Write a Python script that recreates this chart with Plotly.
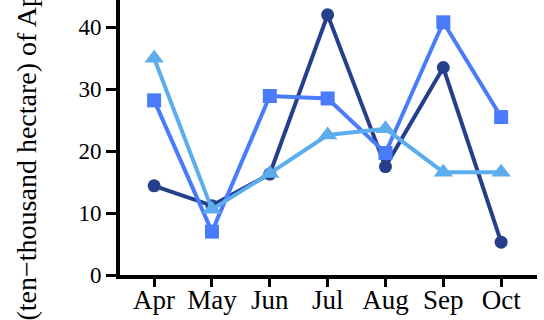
import plotly.graph_objects as go

months = ["Apr", "May", "Jun", "Jul", "Aug", "Sep", "Oct"]
series_a = [14.4, 11.2, 16.3, 42.0, 17.5, 33.5, 5.3]
series_b = [28.2, 7.0, 28.9, 28.5, 19.7, 40.8, 25.5]
series_c = [35.0, 10.6, 16.4, 22.6, 23.6, 16.6, 16.6]
y_ticks = [0, 10, 20, 30, 40]

colors = ["#263F8C", "#4A7BFB", "#5DADEC"]
symbols = ["circle", "square", "triangle-up"]
sizes = [13, 14, 17]

fig = go.Figure()
for vals, col, sym, sz in zip([series_a, series_b, series_c], colors, symbols, sizes):
    fig.add_trace(go.Scatter(
        x=list(range(len(months))), y=vals, mode="lines+markers",
        line=dict(color=col, width=4),
        marker=dict(symbol=sym, size=sz, color=col),
        showlegend=False,
    ))

serif = "Times New Roman, Liberation Serif, Tinos, DejaVu Serif, serif"

fig.update_layout(
    width=544, height=320,
    margin=dict(l=120, r=7, t=0, b=45),
    paper_bgcolor="white", plot_bgcolor="white",
    font=dict(family=serif, size=24, color="black"),
    xaxis=dict(
        range=[-0.59, 6.62], tickvals=list(range(len(months))), ticktext=months,
        showline=True, linecolor="black", linewidth=4,
        ticks="outside", ticklen=8, tickwidth=3, tickcolor="black",
        ticklabelstandoff=-10,
        showgrid=False, zeroline=False,
        tickfont=dict(family=serif, size=27, color="black"),
    ),
    yaxis=dict(
        range=[0, 44.4], tickvals=y_ticks,
        showline=True, linecolor="black", linewidth=4,
        ticks="outside", ticklen=10, tickwidth=3, tickcolor="black",
        showgrid=False, zeroline=False,
        tickfont=dict(family=serif, size=23, color="black"),
    ),
    annotations=[dict(
        text="(ten\u2212thousand hectare) of Aphids",
        textangle=-90, xref="paper", yref="paper",
        x=-0.225, y=0.515, xanchor="center", yanchor="middle",
        showarrow=False, font=dict(family=serif, size=28, color="black"),
    )],
)

fig.write_html("out.html")
